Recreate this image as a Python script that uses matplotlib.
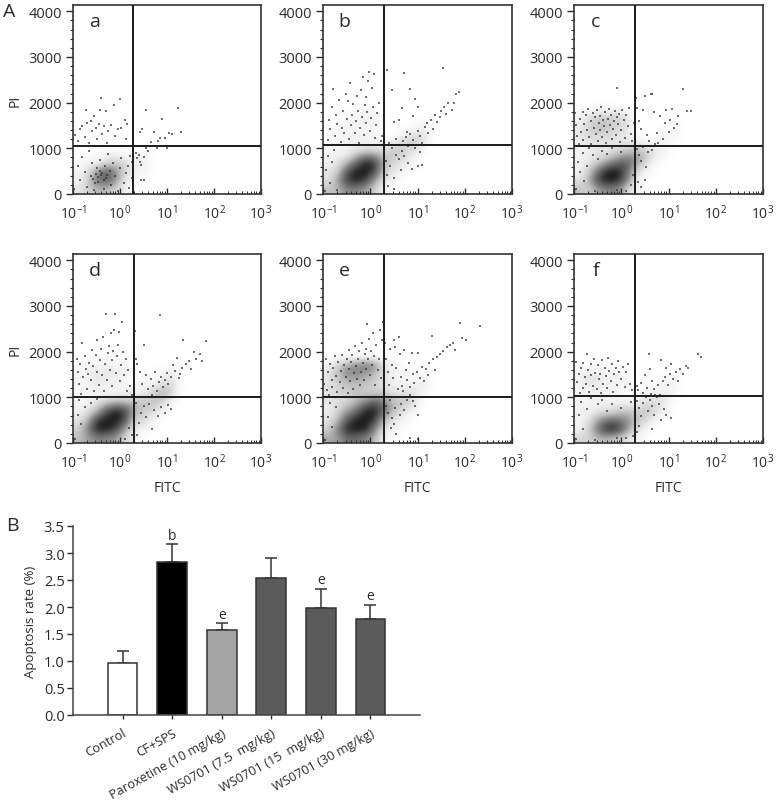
import matplotlib
matplotlib.use("Agg")
import matplotlib.pyplot as plt
import numpy as np

plt.rcParams['font.family'] = ['Open Sans', 'DejaVu Sans']
plt.rcParams['mathtext.default'] = 'regular'
INK = '#2b2b2b'

PANEL_NAMES = ['a', 'b', 'c', 'd', 'e', 'f']
GATE_X = [0.274, 0.29, 0.29, 0.295, 0.29, 0.295]
GATE_Y = [1051, 1073, 1051, 1015, 1007, 1022]

# Density (0-10) read per cell: columns log10(FITC) -1..1.4 step .2, rows PI 0..2000 step 200 (bottom first)
DENS_A = [[2,3,4,4,3,1,0,0,0,0,0,0],[1,3,7,8,6,2,1,0,0,0,0,0],[1,2,5,8,6,3,1,1,0,0,0,0],[0,1,1,2,3,3,1,2,0,0,0,0],
          [0,0,0,1,1,0,0,1,0,0,0,0],[0,0,0,0,0,0,0,0,0,0,0,0],[0,0,0,0,0,0,0,0,0,0,0,0],[0,0,0,0,0,0,0,0,0,0,0,0],[0,0,0,0,0,0,0,0,0,0,0,0],[0,0,0,0,0,0,0,0,0,0,0,0]]
DENS_B = [[4,4,6,6,5,3,1,0,0,0,0,0],[2,5,9,10,9,5,2,1,0,0,0,0],[2,3,8,10,10,9,3,2,1,0,0,0],[1,2,4,7,10,9,4,3,2,1,0,0],
          [1,1,1,3,4,4,3,4,3,2,0,0],[0,1,1,1,1,1,1,2,3,4,2,0],[0,1,1,1,1,1,0,0,1,2,3,0],[0,0,1,1,1,1,0,0,0,0,1,0],[0,0,0,1,1,1,0,0,0,0,0,0],[0,0,0,0,0,0,0,0,0,0,0,0]]
DENS_C = [[4,3,5,6,6,3,1,0,0,0,0,0],[2,4,9,10,10,7,2,0,0,0,0,0],[1,3,7,10,10,8,3,1,0,0,0,0],[1,2,3,5,7,8,6,3,1,0,0,0],
          [1,1,2,2,3,4,5,4,2,1,0,0],[1,2,2,2,2,2,2,1,1,1,0,0],[2,3,3,3,2,2,0,0,0,1,1,0],[1,3,4,4,3,3,0,0,0,0,1,0],[1,2,3,3,3,2,0,0,0,0,0,0],[0,0,0,0,0,0,0,0,0,0,0,0]]
DENS_D = [[4,5,6,6,5,3,1,0,0,0,0,0],[3,6,10,10,9,5,2,1,0,0,0,0],[2,4,9,10,10,9,3,3,1,0,0,0],[1,2,4,8,10,9,5,3,3,1,0,0],
          [1,1,2,3,4,4,4,4,4,3,1,0],[0,1,1,1,1,1,1,1,3,5,3,0],[1,1,2,1,1,1,0,1,1,2,3,0],[1,1,2,2,2,1,0,0,0,1,2,0],[0,1,1,1,1,1,0,0,0,0,0,0],[0,0,0,0,0,0,0,0,0,0,0,0]]
DENS_E = [[5,5,7,7,6,4,1,0,0,0,0,0],[3,6,10,10,10,6,2,1,0,0,0,0],[2,4,8,10,10,9,4,2,1,0,0,0],[1,3,5,7,10,10,7,4,2,1,0,0],
          [2,2,3,4,6,8,6,4,4,3,0,0],[2,3,3,4,3,3,3,2,2,2,1,0],[2,3,4,4,4,3,2,1,1,1,2,0],[2,4,6,6,5,4,2,1,1,0,1,0],[1,3,5,6,7,6,2,1,0,0,0,0],[0,0,0,0,0,0,0,0,0,0,0,0]]
DENS_F = [[3,3,4,4,3,2,1,0,0,0,0,0],[1,3,7,10,10,6,3,1,0,0,0,0],[1,2,5,7,7,6,4,3,1,0,0,0],[1,1,2,2,3,4,3,4,3,1,0,0],
          [1,1,1,1,1,1,1,2,3,2,0,0],[1,1,1,1,1,0,0,1,1,2,1,0],[1,2,2,1,1,1,0,0,0,1,1,0],[1,2,2,1,1,1,0,0,0,0,0,0],[0,0,0,0,0,0,0,0,0,0,0,0],[0,0,0,0,0,0,0,0,0,0,0,0]]

# Individual events: (log10 FITC, PI)
PTS_A = [(-0.95,1300),(-0.9,1150),(-0.85,1420),(-0.8,1480),(-0.75,1250),(-0.72,1840),(-0.7,1560),(-0.65,1120),(-0.62,1600),(-0.6,1380),(-0.55,1700),(-0.52,1450),(-0.5,1200),(-0.45,1530),(-0.42,1830),(-0.4,2110),(-0.38,1310),(-0.35,1480),(-0.3,1820),(-0.27,1120),(-0.25,1370),(-0.2,1500),(-0.12,1950),(-0.1,1280),(-0.05,1420),(0,2070),(0.02,1450),(0.1,1630),(0.12,1200),(0.15,1540),
 (0.33,900),(0.36,780),(0.4,850),(0.42,700),(0.45,640),(0.5,820),(0.47,1420),(0.42,1350),(0.55,1840),(0.56,1000),(0.6,950),(0.65,1130),(0.7,1060),(0.72,1360),(0.78,1000),(0.8,1170),(0.85,1220),(0.9,1650),(0.95,1230),(1.0,1000),(1.05,1330),(1.1,1320),(1.23,1880),(1.3,1360),(0.45,300),(0.5,300),
 (-0.97,100),(-0.9,620),(-0.85,300),(-0.8,800),(-0.75,480),(-0.7,150),(-0.65,950),(-0.6,680),(-0.55,90),(-0.5,560),(-0.47,260),(-0.42,740),(-0.4,420),(-0.35,120),(-0.32,610),(-0.3,350),(-0.25,880),(-0.22,500),(-0.2,200),(-0.15,680),(-0.1,390),(-0.05,70),(0,560),(0.03,790),(0.08,240),(0.12,460),(0.18,620),(0.2,130),(0.22,830),(0.25,350),(0.26,700),(-0.58,330),(-0.52,430),(-0.46,380),(-0.38,460),(-0.34,300),(-0.28,420),(-0.43,510),(-0.53,240),(-0.62,400)]
PTS_B = [(-0.9,1180),(-0.88,1620),(-0.85,1420),(-0.82,1900),(-0.78,2290),(-0.75,1280),(-0.72,1720),(-0.7,1540),(-0.66,2050),(-0.62,1130),(-0.6,1450),(-0.58,1820),(-0.55,1330),(-0.52,2180),(-0.5,1640),(-0.48,2030),(-0.45,1200),(-0.43,2430),(-0.4,1500),(-0.38,1730),(-0.36,1980),(-0.33,1330),(-0.3,1590),(-0.28,2150),(-0.26,1820),(-0.24,1120),(-0.22,1450),(-0.2,2280),(-0.18,1690),(-0.16,2570),(-0.14,1300),(-0.12,1950),(-0.1,1560),(-0.08,2120),(-0.06,1790),(-0.04,2480),(-0.02,2680),(0,1380),(0.02,1670),(0.04,2310),(0.06,1900),(0.08,2620),(0.1,1230),(0.12,1500),(0.15,1770),(0.18,2000),(0.22,1150),(0.25,1280),
 (0.35,2710),(0.45,2280),(0.5,1580),(0.55,1200),(0.6,1620),(0.68,1880),(0.72,2660),(0.78,1350),(0.85,2300),(0.9,1700),(0.95,2080),(1.0,1900),(0.4,1120),(0.47,1000),(0.55,860),(0.62,1080),(0.67,950),(0.7,1170),(0.75,1240),(0.8,1060),(0.85,1320),(0.9,1190),(0.95,1010),(1.0,1390),(1.05,1280),(1.1,1110),(1.15,1470),(1.2,1550),(1.22,1330),(1.28,1610),(1.32,1420),(1.38,1720),(1.42,1570),(1.47,1680),(1.5,1810),(1.56,1900),(1.6,1750),(1.65,2000),(1.72,1850),(1.78,1990),(1.82,2180),(1.87,2230),(1.55,2760),
 (0.35,420),(0.42,620),(0.5,340),(0.6,760),(0.66,520),(0.72,840),(0.8,670),(0.88,540),(1.0,620),(1.06,930),(1.1,630),(0.38,170),(0.5,100),(0.33,720),(-0.95,60),(-0.93,530),(-0.9,840),(-0.85,250),(-0.8,700),(-0.76,960),(-0.7,90)]
PTS_C = [(-0.97,1780),(-0.95,1500),(-0.93,1260),(-0.9,1090),(-0.88,1650),(-0.85,1350),(-0.82,1790),(-0.8,1180),(-0.78,1530),(-0.75,1720),(-0.72,1410),(-0.7,1860),(-0.68,1240),(-0.65,1590),(-0.63,1100),(-0.6,1780),(-0.58,1450),(-0.56,1680),(-0.54,1310),(-0.52,1830),(-0.5,1160),(-0.48,1560),(-0.46,1710),(-0.44,1400),(-0.42,1900),(-0.4,1250),(-0.38,1620),(-0.36,1490),(-0.34,1790),(-0.32,1120),(-0.3,1350),(-0.28,1650),(-0.26,1870),(-0.24,1520),(-0.22,1720),(-0.2,1200),(-0.18,1420),(-0.16,1600),(-0.14,1810),(-0.12,1300),(-0.1,1680),(-0.08,2310),(-0.06,1530),(-0.04,1750),(-0.02,1130),(0,1400),(0.02,1850),(0.05,1610),(0.08,1220),(0.11,1730),(0.14,1480),(0.17,1890),(0.2,1320),(0.23,1150),(0.26,1560),
 (0.32,2100),(0.34,1880),(0.37,1600),(0.42,1420),(0.45,1830),(0.5,2150),(0.55,1290),(0.58,1150),(0.62,2180),(0.66,2200),(0.7,1800),(0.75,1330),(0.78,1120),(0.82,1700),(0.88,1200),(0.92,1560),(0.95,1850),(1.0,1350),(1.03,1620),(1.08,1860),(1.12,1450),(1.17,1540),(1.2,1700),(1.3,2300),(1.4,1820),(1.48,1820),
 (0.33,980),(0.38,850),(0.42,720),(0.47,1030),(0.52,600),(0.56,920),(0.6,1040),(0.66,960),(0.72,1090),(0.36,260),(0.42,150),(0.5,310),(-0.96,120),(-0.92,700),(-0.87,480),(-0.82,900),(-0.78,280),(-0.72,620),(-0.68,1000),(-0.6,850),(-0.55,60),(-0.5,760),(-0.4,950),(-0.3,880),(-0.2,1010),(-0.1,90),(0,930),(0.1,70),(0.2,200),(0.25,420)]
PTS_D = [(-0.92,1850),(-0.9,1560),(-0.88,1290),(-0.85,1720),(-0.83,1080),(-0.8,2180),(-0.78,1450),(-0.75,1900),(-0.72,1630),(-0.7,1180),(-0.68,1500),(-0.65,1750),(-0.62,1380),(-0.6,2040),(-0.58,1680),(-0.55,1130),(-0.52,1930),(-0.5,1560),(-0.48,2250),(-0.45,1280),(-0.43,1810),(-0.4,2060),(-0.38,1490),(-0.36,2320),(-0.34,1140),(-0.32,1720),(-0.3,2830),(-0.28,1380),(-0.26,1960),(-0.24,2130),(-0.22,1590),(-0.2,2400),(-0.18,1240),(-0.16,1820),(-0.14,2020),(-0.12,2480),(-0.1,2820),(-0.08,1530),(-0.06,1900),(-0.04,2150),(-0.02,2420),(0,1350),(0.02,1700),(0.04,2650),(0.06,2000),(0.08,1480),(0.12,1830),(0.15,1130),(0.18,1600),(0.22,1250),(0.25,1050),
 (0.32,2460),(0.34,1850),(0.37,1720),(0.42,1550),(0.47,1300),(0.52,2140),(0.55,1480),(0.6,1180),(0.65,1410),(0.68,1060),(0.7,1250),(0.75,1550),(0.78,1140),(0.82,1340),(0.85,2810),(0.88,1450),(0.92,1220),(0.95,1380),(1.0,1540),(1.03,1300),(1.08,1450),(1.12,1700),(1.17,1580),(1.22,1870),(1.28,1500),(1.32,1640),(1.35,2260),(1.4,1740),(1.47,1800),(1.52,1620),(1.58,2000),(1.62,1850),(1.7,1950),(1.75,1800),(1.83,2240),(1.25,1420),
 (0.33,870),(0.4,430),(0.45,650),(0.5,800),(0.56,560),(0.62,860),(0.68,300),(0.72,720),(0.8,600),(0.88,780),(0.95,650),(1.02,830),(1.08,750),(0.36,180),(-0.95,90),(-0.9,620),(-0.87,940),(-0.82,420),(-0.75,780),(-0.7,1000),(-0.62,880),(-0.5,960),(0.25,170),(0.2,320),(0.1,80)]
PTS_E = [(-0.97,1300),(-0.94,1830),(-0.92,1150),(-0.9,1560),(-0.87,1050),(-0.85,1740),(-0.82,1390),(-0.8,1220),(-0.78,1650),(-0.75,1910),(-0.72,1470),(-0.7,1120),(-0.68,1780),(-0.65,1330),(-0.62,1580),(-0.6,1930),(-0.58,1210),(-0.55,1700),(-0.52,1450),(-0.5,1830),(-0.48,1090),(-0.46,2040),(-0.44,1620),(-0.42,1350),(-0.4,1770),(-0.38,1930),(-0.36,1190),(-0.34,1530),(-0.32,2120),(-0.3,1690),(-0.28,1410),(-0.26,1840),(-0.24,2010),(-0.22,1260),(-0.2,1560),(-0.18,2190),(-0.16,1750),(-0.14,1380),(-0.12,1950),(-0.1,1620),(-0.08,2060),(-0.06,2610),(-0.04,1850),(-0.02,2280),(0,1490),(0.02,2020),(0.04,1710),(0.06,2400),(0.08,1900),(0.1,1280),(0.13,2150),(0.16,1600),(0.18,1830),(0.2,2480),(0.22,1420),(0.25,2260),(0.27,2650),
 (0.32,2190),(0.34,1850),(0.37,1560),(0.4,1280),(0.42,2060),(0.45,1700),(0.48,1420),(0.5,2260),(0.53,2100),(0.55,1650),(0.58,1180),(0.6,2330),(0.62,1940),(0.65,1450),(0.68,1250),(0.7,1130),(0.72,2030),(0.75,1600),(0.78,1370),(0.82,1750),(0.85,1220),(0.88,1960),(0.9,1500),(0.93,1310),(0.98,1550),(1.02,1980),(1.05,1420),(1.1,1660),(1.13,1350),(1.18,1620),(1.22,1480),(1.25,1750),(1.3,2340),(1.33,1830),(1.38,1600),(1.42,1890),(1.47,1940),(1.55,2010),(1.62,2100),(1.68,2150),(1.75,2200),(1.8,2030),(1.9,2620),(1.95,2300),(2.03,2260),(2.32,2570),
 (0.33,800),(0.38,650),(0.42,950),(0.47,540),(0.52,760),(0.58,1000),(0.62,620),(0.66,850),(0.72,720),(0.78,950),(0.85,1050),(0.9,920),(0.95,800),(1.02,620),(0.43,320),(0.55,190),(0.5,420),(0.85,120),(1.02,90),(-0.95,70),(-0.9,560),(-0.85,880),(-0.8,350),(-0.72,780)]
PTS_F = [(-0.95,1780),(-0.93,1330),(-0.9,1500),(-0.88,1090),(-0.85,1640),(-0.82,1200),(-0.8,1760),(-0.77,1450),(-0.75,1290),(-0.72,1950),(-0.7,1600),(-0.68,1120),(-0.65,1720),(-0.63,1490),(-0.6,1250),(-0.58,1830),(-0.55,1540),(-0.52,1180),(-0.5,1700),(-0.48,1400),(-0.45,1510),(-0.42,1090),(-0.4,1810),(-0.38,1300),(-0.35,1640),(-0.32,1470),(-0.3,1200),(-0.27,1860),(-0.25,1580),(-0.22,1350),(-0.2,1720),(-0.17,1120),(-0.15,1500),(-0.12,1650),(-0.1,1280),(-0.07,1790),(-0.04,1550),(0,1410),(0.03,1660),(0.07,1220),(0.1,1550),(0.14,1720),(0.18,1300),(0.22,1150),
 (0.33,1240),(0.36,1160),(0.42,1320),(0.45,1100),(0.5,1480),(0.55,1200),(0.58,1950),(0.6,1620),(0.62,1080),(0.66,1350),(0.7,1180),(0.72,1050),(0.78,1270),(0.82,1060),(0.85,1820),(0.88,1350),(0.92,1450),(0.95,1650),(0.98,1280),(1.03,1510),(1.06,1730),(1.1,1400),(1.15,1560),(1.2,1350),(1.24,1620),(1.3,1500),(1.36,1680),(1.42,1650),(1.63,1950),(1.68,1880),
 (0.33,920),(0.38,760),(0.42,590),(0.47,880),(0.52,1010),(0.56,700),(0.6,940),(0.65,820),(0.7,620),(0.75,1000),(0.8,860),(0.85,510),(0.9,740),(0.95,620),(1.05,550),(0.33,250),(0.38,380),(0.65,300),
 (-0.96,80),(-0.9,620),(-0.85,900),(-0.8,300),(-0.72,750),(-0.65,980),(-0.55,60),(-0.5,860),(-0.4,950),(-0.3,700),(-0.2,860),(-0.1,100),(0,760),(0.1,120),(0.2,900),(0.25,150)]

DENSITIES = [DENS_A, DENS_B, DENS_C, DENS_D, DENS_E, DENS_F]
POINTS = [PTS_A, PTS_B, PTS_C, PTS_D, PTS_E, PTS_F]
X_DECADES = [-1, 0, 1, 2, 3]
Y_TICKS = [0, 1000, 2000, 3000, 4000]

GROUPS = ['Control', 'CF+SPS', 'Paroxetine (10 mg/kg)', 'WS0701 (7.5  mg/kg)', 'WS0701 (15  mg/kg)', 'WS0701 (30 mg/kg)']
RATE = [0.97, 2.84, 1.58, 2.54, 1.99, 1.77]
ERR = [0.22, 0.32, 0.12, 0.36, 0.35, 0.27]
SIG = ['', 'b', 'e', '', 'e', 'e']
BAR_COL = ['white', 'black', '#a4a4a4', '#5b5b5b', '#5b5b5b', '#5b5b5b']

W, H = 777, 803
fig = plt.figure(figsize=(W/100, H/100), dpi=100)

def box(l, t, r, b):
    return fig.add_axes([l/W, 1-b/H, (r-l)/W, (b-t)/H])

PANEL_BOX = [(73, 6, 261, 195), (323, 6, 512, 195), (574, 6, 763, 195),
             (73, 255, 261, 444), (323, 255, 512, 444), (574, 255, 763, 444)]
minor_x = [d+np.log10(m) for d in X_DECADES[:-1] for m in range(2, 10)]
minor_y = [v for v in np.arange(0, 4001, 200) if v % 1000]

for i, name in enumerate(PANEL_NAMES):
    ax = box(*PANEL_BOX[i])
    ax.imshow(np.array(DENSITIES[i]), origin='lower', extent=(-1, 1.4, 0, 2000), aspect='auto',
              cmap='Greys', vmin=0, vmax=11, interpolation='bicubic', zorder=1)
    p = np.array(POINTS[i])
    ax.scatter(p[:, 0], p[:, 1], s=1.0, marker='s', c='#333333', linewidths=0, alpha=0.7, zorder=2)
    ax.axvline(GATE_X[i], color='#1a1a1a', lw=1.4, zorder=3)
    ax.axhline(GATE_Y[i], color='#1a1a1a', lw=1.4, zorder=3)
    ax.set_xlim(-1, 3)
    ax.set_ylim(0, 4138)
    ax.set_xticks(X_DECADES)
    ax.set_xticklabels(['10$^{%d}$' % d for d in X_DECADES], fontsize=10, color=INK)
    ax.set_xticks(minor_x, minor=True)
    ax.set_yticks(Y_TICKS)
    ax.set_yticks(minor_y, minor=True)
    ax.tick_params(axis='y', which='major', length=5, width=1, labelsize=10.5, labelcolor=INK, pad=3, color=INK)
    ax.tick_params(axis='y', which='minor', length=2, width=.8, color=INK)
    ax.tick_params(axis='x', which='major', direction='in', length=4, width=1, pad=7, color=INK)
    ax.tick_params(axis='x', which='minor', direction='in', length=2.5, width=.7, color=INK)
    for s in ax.spines.values():
        s.set_linewidth(1.2)
        s.set_color('#333333')
    ax.text(0.115, 0.915, name, transform=ax.transAxes, fontsize=14, color=INK, va='center', ha='center')
    if i % 3 == 0:
        ax.set_ylabel('PI', fontsize=10, color=INK, labelpad=4)
    if i >= 3:
        ax.set_xlabel('FITC', fontsize=10, color=INK, labelpad=6)

bx = box(73, 527, 420, 716)
xs = np.arange(1, len(GROUPS)+1)
bx.bar(xs, RATE, width=0.6, color=BAR_COL, edgecolor='#333333', linewidth=1.1, zorder=2)
bx.errorbar(xs, RATE, yerr=[[0]*len(ERR), ERR], fmt='none', ecolor='#333333', elinewidth=1.1, capsize=4.5, capthick=1.1, zorder=1)
for x, r, e, s in zip(xs, RATE, ERR, SIG):
    if s:
        bx.text(x, r+e+0.03, s, ha='center', va='bottom', fontsize=10, color=INK)
bx.set_xlim(0, 7)
bx.set_ylim(0, 3.5)
bx.set_yticks(np.arange(0, 3.6, .5))
bx.set_yticklabels(['%.1f' % v for v in np.arange(0, 3.6, .5)], fontsize=10.5, color=INK)
bx.set_xticks(xs)
bx.set_xticklabels(GROUPS, rotation=29, ha='right', rotation_mode='anchor', fontsize=9.2, color=INK)
bx.tick_params(axis='x', length=3, width=1, pad=5, color=INK)
bx.tick_params(axis='y', length=4, width=1, pad=2, color=INK)
bx.set_ylabel('Apoptosis rate (%)', fontsize=9.5, color=INK, labelpad=5)
for s in ('top', 'right'):
    bx.spines[s].set_visible(False)
for s in ('left', 'bottom'):
    bx.spines[s].set_linewidth(1.1)
    bx.spines[s].set_color('#444444')

fig.text(3/W, 1-12/H, 'A', fontsize=14, color=INK, va='center')
fig.text(6/W, 1-526/H, 'B', fontsize=14, color=INK, va='center')
fig.savefig('out.png', dpi=100)
